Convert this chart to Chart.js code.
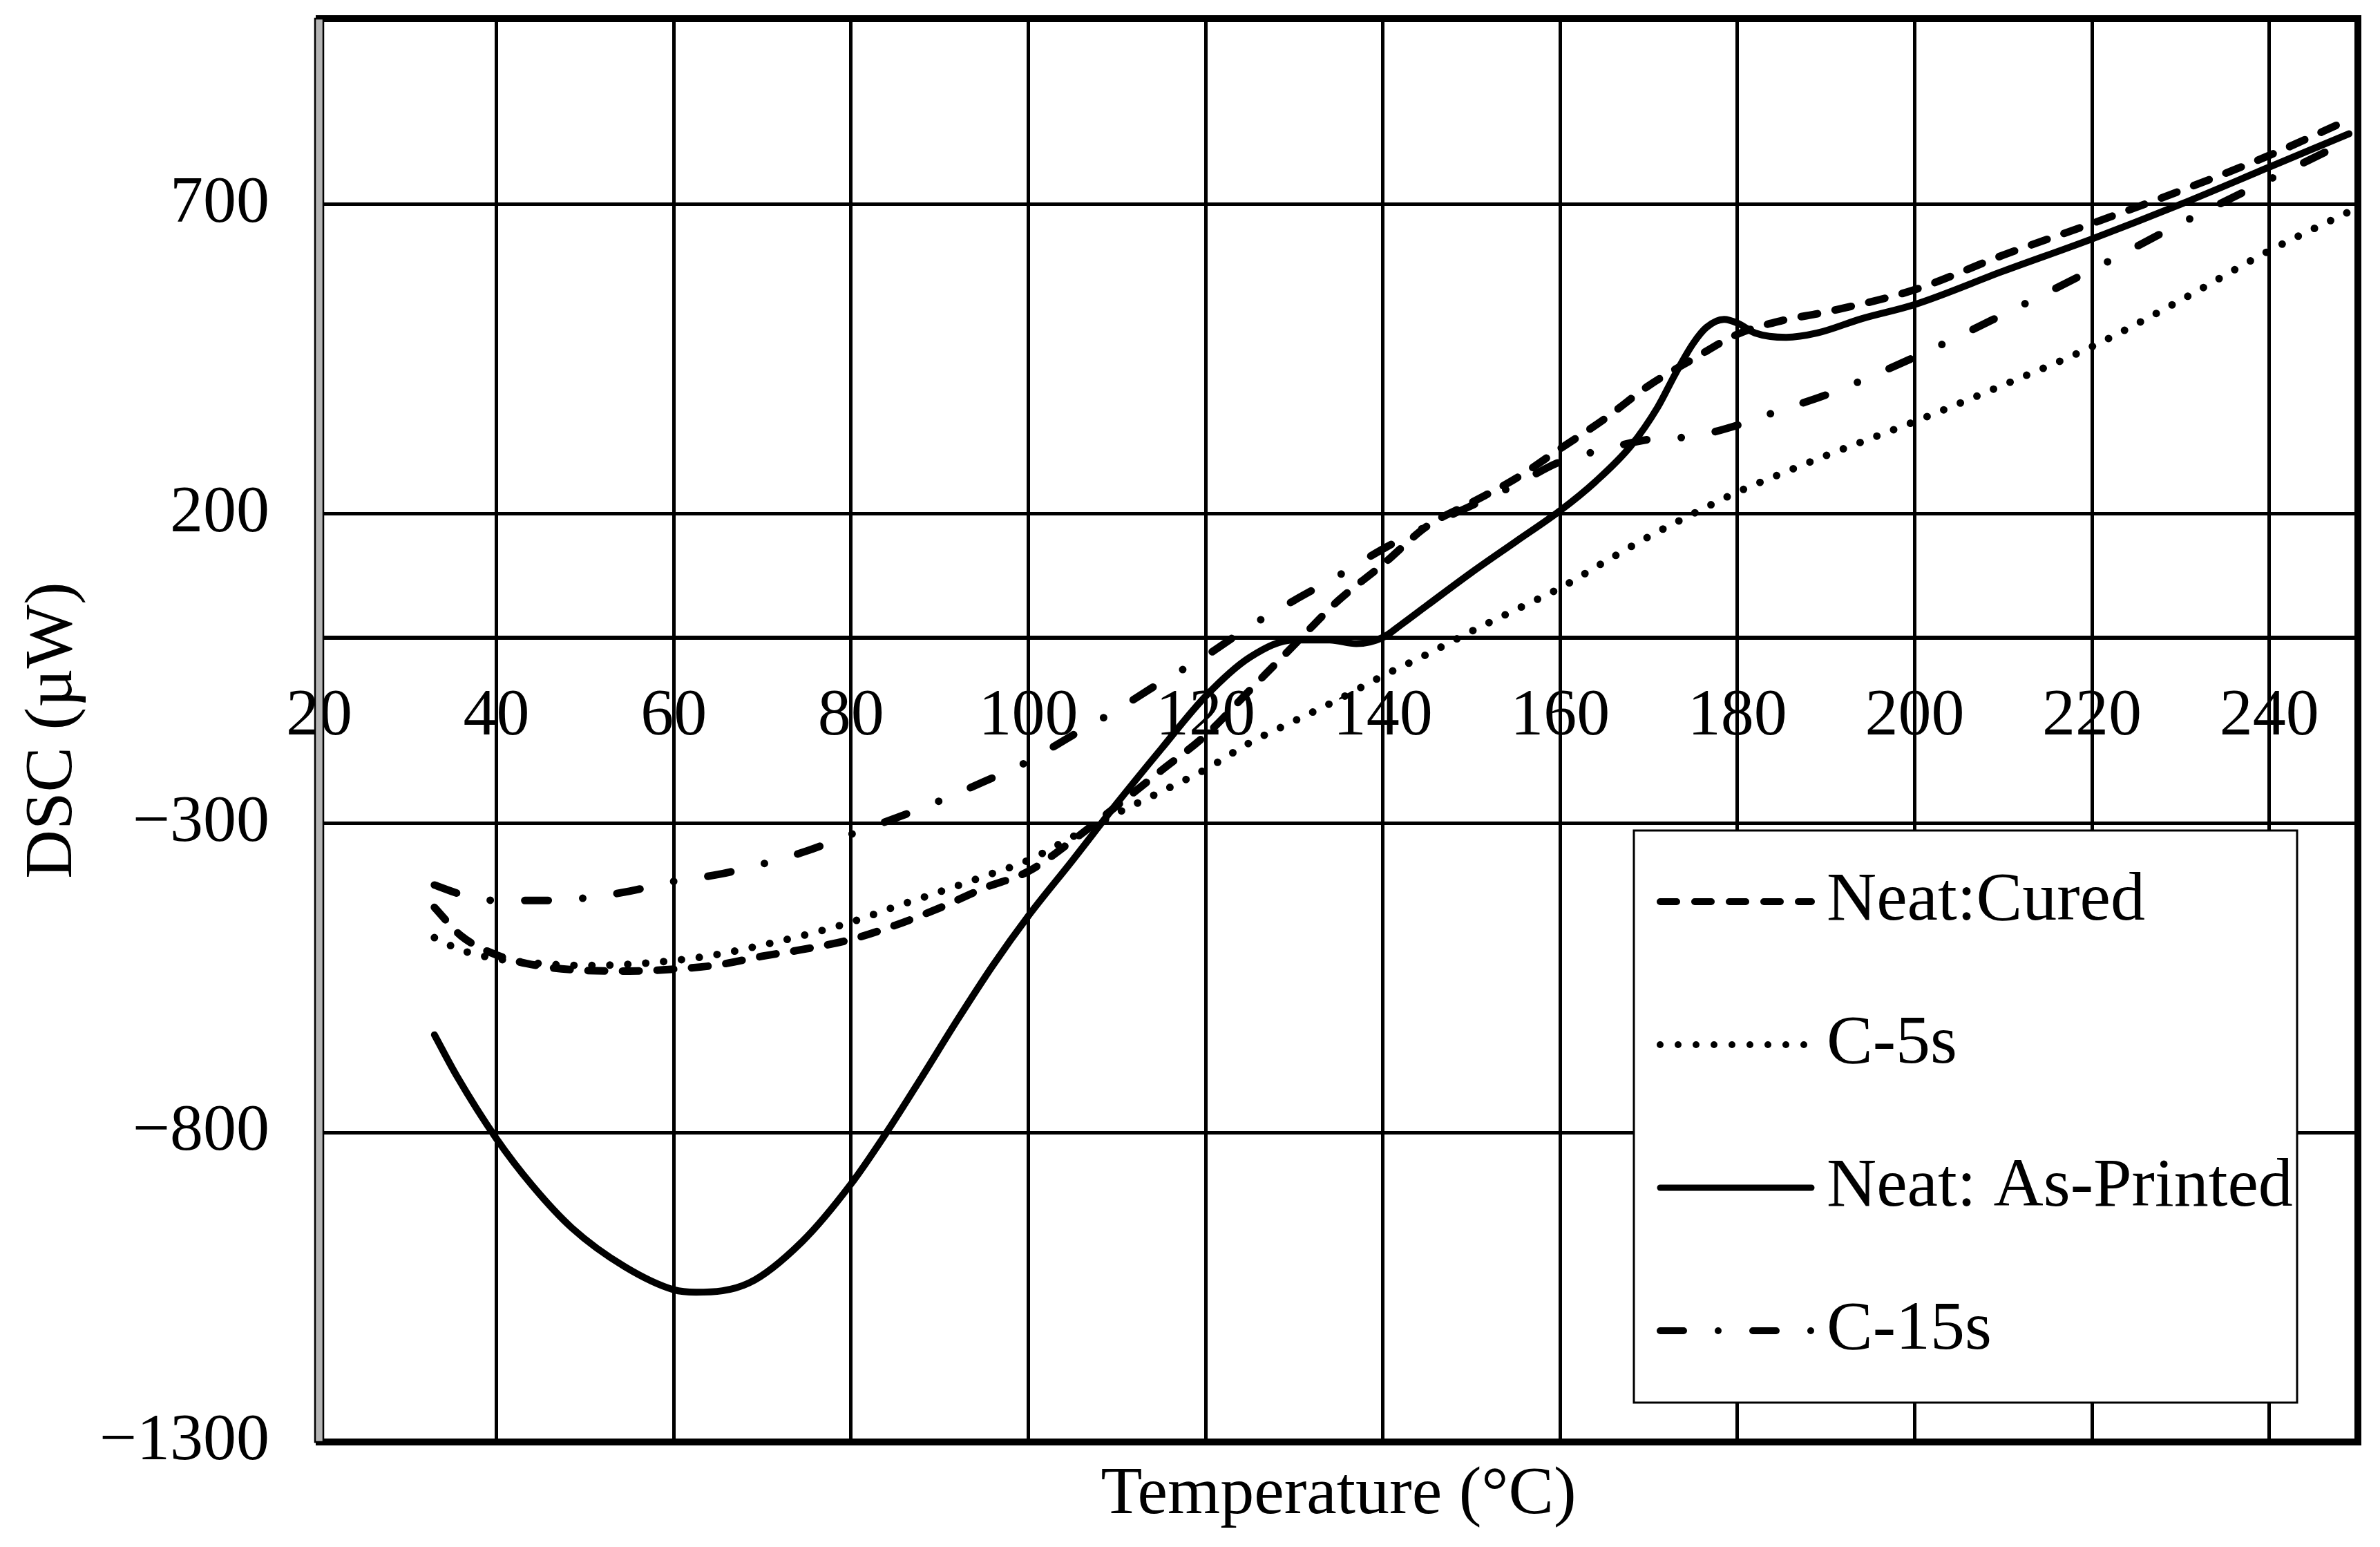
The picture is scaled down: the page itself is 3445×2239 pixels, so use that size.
<!DOCTYPE html>
<html>
<head>
<meta charset="utf-8">
<script src="https://cdn.jsdelivr.net/npm/chart.js@4.4.1/dist/chart.umd.min.js"></script>
<style>
  html, body { margin: 0; padding: 0; background: #fff; }
  #wrap { width: 3445px; height: 2239px; }
</style>
</head>
<body>
<div id="wrap"><canvas id="chart"></canvas></div>
<script>
'use strict';

// Temperature (°C) and DSC (µW)
const temps = [33, 36, 40, 45, 50, 55, 60, 65, 70, 75,
  80, 85, 90, 95, 100, 105, 110, 115, 120, 125,
  130, 135, 140, 145, 150, 155, 160, 165, 170, 175,
  180, 185, 190, 200, 210, 220, 230, 240, 249];

const neatCured = [-436, -482, -513, -531, -538, -539, -536, -529, -515, -503,
  -488, -465, -437, -405, -378, -328, -272, -215, -158, -85,
  -12, 60, 118, 180, 218, 257, 305, 353, 407, 450,
  490, 512, 526, 562, 618, 669, 722, 779, 837];

const c5s = [-485, -505, -519, -527, -530, -528, -522, -512, -497, -480,
  -460, -435, -411, -386, -360, -322, -284, -249, -213, -170,
  -135, -100, -62, -27, 10, 45, 80, 122, 163, 200,
  235, 265, 294, 349, 408, 470, 545, 625, 688];

const c15s = [-400, -415, -425, -425, -421, -410, -394, -383, -366, -345,
  -318, -292, -264, -233, -200, -158, -117, -72, -30, 18,
  60, 100, 143, 180, 213, 247, 284, 304, 320, 325,
  343, 368, 392, 453, 522, 594, 669, 740, 803];

// the as-printed curve has its own, finer temperature steps
const tempsPrinted = [33, 35.5, 40, 44, 48.5, 54.5, 60, 62.5, 68.5, 74.5,
  80, 84, 88, 92, 96, 100, 105, 110, 115, 120,
  125, 130, 134, 137, 140, 142, 145, 150, 155, 160,
  164, 168, 171, 173, 175, 176.5, 178.5, 180, 182, 185.5,
  189, 194, 200, 210, 220, 230, 240, 249];
const neatPrinted = [-642, -708, -810, -885, -954, -1017, -1054, -1058, -1043, -976,
  -883, -800, -710, -618, -530, -450, -360, -268, -180, -95,
  -32, -4, -4, -10, 0, 20, 52, 105, 155, 205,
  252, 310, 372, 426, 475, 501, 514, 508, 492, 485,
  492, 515, 538, 592, 644, 700, 760, 814];

const xTicks = [20, 40, 60, 80, 100, 120, 140, 160, 180, 200, 220, 240];
const yTicks = [-1300, -800, -300, 200, 700];

const seriesNames = ['Neat:Cured', 'C-5s', 'Neat: As-Printed', 'C-15s'];

function pairs(xs, ys) {
  return xs.map((x, i) => ({ x, y: ys[i] }));
}

const FONT = 'Liberation Serif';
Chart.defaults.font.family = FONT;
Chart.defaults.color = '#000';

// black frame round the plot, with the grey left axis band
const frame = {
  id: 'frame',
  afterDatasetsDraw(chart) {
    const { ctx, chartArea: a } = chart;
    ctx.save();
    ctx.strokeStyle = '#000';
    ctx.lineWidth = 10;
    ctx.lineCap = 'square';
    ctx.beginPath();
    ctx.moveTo(a.left, a.top);
    ctx.lineTo(a.right, a.top);
    ctx.lineTo(a.right, a.bottom);
    ctx.lineTo(a.left, a.bottom);
    ctx.stroke();
    ctx.fillStyle = '#b4b4b4';
    ctx.fillRect(a.left - 6, a.top, 12, a.bottom - a.top);
    ctx.lineWidth = 2.5;
    ctx.strokeRect(a.left - 6, a.top, 12, a.bottom - a.top);
    ctx.restore();
  }
};

// boxed legend inside the plot, bottom right
const boxLegend = {
  id: 'boxLegend',
  afterDraw(chart, args, opts) {
    const { ctx } = chart;
    ctx.save();
    ctx.fillStyle = '#fff';
    ctx.fillRect(opts.left, opts.top, opts.width, opts.height);
    ctx.strokeStyle = '#000';
    ctx.lineWidth = 3;
    ctx.strokeRect(opts.left, opts.top, opts.width, opts.height);

    chart.data.datasets.forEach((ds, i) => {
      const y = opts.firstRow + i * opts.rowGap;
      ctx.save();
      ctx.strokeStyle = ds.borderColor;
      ctx.lineWidth = ds.borderWidth - 1;
      ctx.lineCap = ds.borderCapStyle || 'butt';
      ctx.setLineDash(ds.borderDash || []);
      ctx.beginPath();
      ctx.moveTo(opts.lineStart, y);
      ctx.lineTo(opts.lineEnd, y);
      ctx.stroke();
      ctx.restore();

      ctx.fillStyle = '#000';
      ctx.font = `${opts.fontSize}px "${FONT}"`;
      ctx.textAlign = 'left';
      ctx.textBaseline = 'middle';
      ctx.fillText(ds.label, opts.textX, y);
    });
    ctx.restore();
  }
};

const lineBase = {
  borderColor: '#000',
  backgroundColor: '#000',
  pointRadius: 0,
  fill: false,
  cubicInterpolationMode: 'monotone',
};

new Chart(document.getElementById('chart'), {
  type: 'line',
  data: {
    datasets: [
      { ...lineBase, label: seriesNames[0], data: pairs(temps, neatCured),
        borderWidth: 11, borderDash: [24, 26], borderCapStyle: 'round' },
      { ...lineBase, label: seriesNames[1], data: pairs(temps, c5s),
        borderWidth: 11, borderDash: [0, 26], borderCapStyle: 'round' },
      { ...lineBase, label: seriesNames[2], data: pairs(tempsPrinted, neatPrinted),
        borderWidth: 10, borderCapStyle: 'round' },
      { ...lineBase, label: seriesNames[3], data: pairs(temps, c15s),
        borderWidth: 11, borderDash: [34, 50, 0, 50], borderCapStyle: 'round' },
    ],
  },
  options: {
    responsive: true,
    maintainAspectRatio: false,
    animation: false,
    layout: { padding: { left: 0, top: 27, right: 32, bottom: 0 } },
    plugins: {
      legend: { display: false },
      tooltip: { enabled: false },
      boxLegend: {
        left: 2365, top: 1202, width: 960, height: 828,
        firstRow: 1305, rowGap: 207,
        lineStart: 2403, lineEnd: 2622, textX: 2644, fontSize: 100,
      },
    },
    scales: {
      x: {
        type: 'linear',
        position: { y: 0 },
        min: 20,
        max: 250,
        afterBuildTicks: scale => { scale.ticks = xTicks.map(value => ({ value })); },
        grid: { color: '#000', lineWidth: 5, drawTicks: false },
        border: { display: true, color: '#000', width: 6 },
        ticks: { font: { size: 96 }, padding: 58, maxRotation: 0, autoSkip: false },
      },
      xTitle: {
        type: 'linear',
        axis: 'x',
        position: 'bottom',
        min: 20,
        max: 250,
        grid: { display: false },
        border: { display: false },
        ticks: { display: false },
        title: { display: true, text: 'Temperature (°C)', font: { size: 98 }, padding: { top: 0, bottom: 16 } },
        afterFit: scale => { scale.height = 152; },
      },
      y: {
        type: 'linear',
        position: 'left',
        min: -1300,
        max: 1000,
        afterBuildTicks: scale => { scale.ticks = yTicks.map(value => ({ value })); },
        afterFit: scale => {
          scale.width = 462;
          scale.paddingTop = 0;
          scale.paddingBottom = 0;
        },
        grid: { color: '#000', lineWidth: 5, drawTicks: false },
        border: { display: false },
        ticks: {
          font: { size: 96 },
          padding: 72,
          callback: v => (v < 0 ? '\u2212' + Math.abs(v) : String(v)),
        },
        title: { display: true, text: 'DSC (µW)', font: { size: 98 }, padding: { top: 18, bottom: 0 } },
      },
    },
  },
  plugins: [frame, boxLegend],
});
</script>
</body>
</html>
